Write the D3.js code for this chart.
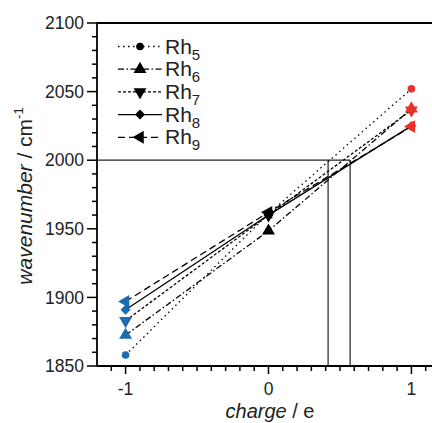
<!DOCTYPE html>
<html><head><meta charset="utf-8">
<script src="https://cdn.jsdelivr.net/npm/d3@7/dist/d3.min.js"></script>
<style>body{margin:0;background:#fff}svg{display:block;font-family:"Liberation Sans",Arial,sans-serif}</style>
</head><body><svg id="c" width="432" height="423"></svg>
<script>
const charges = [-1, 0, 1];
const seriesNames = ["Rh5", "Rh6", "Rh7", "Rh8", "Rh9"];
const rh5 = [1858, 1961, 2052];
const rh6 = [1872.5, 1948.5, 2037.5];
const rh7 = [1883, 1960, 2036.5];
const rh8 = [1891, 1960, 2025];
const rh9 = [1897, 1962, 2024.5];
const crossings = [0.417, 0.571];
const refLevel = 2000;
const yTicks = [1850, 1900, 1950, 2000, 2050, 2100];
const xTicks = [-1, 0, 1];

const svg = d3.select("#c");
const x = d3.scaleLinear().domain([-1.2, 1.2]).range([97, 440]);
const y = d3.scaleLinear().domain([1850, 2100]).range([366, 23]);
const pointColor = v => v < 0 ? "#1b6cb0" : (v > 0 ? "#e8302a" : "#000");

const series = [
  {name: seriesNames[0], sub: "5", vals: rh5, sym: d3.symbolCircle, size: 46, dash: "1.5,3.5", rot: 0},
  {name: seriesNames[1], sub: "6", vals: rh6, sym: d3.symbolTriangle, size: 72, dash: "6,2.5,1.5,2.5", rot: 0},
  {name: seriesNames[2], sub: "7", vals: rh7, sym: d3.symbolTriangle, size: 72, dash: "3,2", rot: 180},
  {name: seriesNames[3], sub: "8", vals: rh8, sym: d3.symbolSquare, size: 50, dash: null, rot: 45},
  {name: seriesNames[4], sub: "9", vals: rh9, sym: d3.symbolTriangle, size: 72, dash: "7,4", rot: -90}
];

const g = svg.append("g");
g.append("line").attr("x1", x(-1.2)).attr("x2", x(crossings[1])).attr("y1", y(refLevel)).attr("y2", y(refLevel))
  .attr("stroke", "#222").attr("stroke-width", 1.3);
crossings.forEach(c => {
  g.append("line").attr("x1", x(c)).attr("x2", x(c)).attr("y1", y(refLevel)).attr("y2", y(1850))
    .attr("stroke", "#222").attr("stroke-width", 1.2);
});

const line = d3.line().x((d, i) => x(charges[i])).y(d => y(d));
series.forEach(s => {
  g.append("path").attr("d", line(s.vals)).attr("fill", "none").attr("stroke", "#000")
    .attr("stroke-width", 1.3).attr("stroke-dasharray", s.dash);
});
series.forEach(s => {
  s.vals.forEach((v, i) => {
    g.append("path").attr("d", d3.symbol().type(s.sym).size(s.size)())
      .attr("transform", `translate(${x(charges[i])},${y(v)}) rotate(${s.rot})`)
      .attr("fill", pointColor(charges[i]));
  });
});

const ya = svg.append("g").attr("transform", `translate(${x(-1.2)},0)`);
ya.append("line").attr("x1", 0).attr("x2", 0).attr("y1", y(2100)).attr("y2", y(1850)).attr("stroke", "#000").attr("stroke-width", 1.8);
d3.range(1850, 2101, 10).forEach(v => {
  const major = v % 50 === 0;
  ya.append("line").attr("x1", major ? -10 : -5).attr("x2", 0).attr("y1", y(v)).attr("y2", y(v))
    .attr("stroke", "#000").attr("stroke-width", 1.5);
});
yTicks.forEach(v => {
  ya.append("text").attr("x", -13).attr("y", y(v)).attr("dy", "0.35em").attr("text-anchor", "end")
    .attr("font-size", 17.5).attr("fill", "#222").text(v);
});

const xa = svg.append("g");
xa.append("line").attr("x1", x(-1.2)).attr("x2", x(1.2)).attr("y1", y(1850)).attr("y2", y(1850)).attr("stroke", "#000").attr("stroke-width", 1.8);
xa.append("line").attr("x1", x(-1.2)).attr("x2", x(1.2)).attr("y1", y(2100)).attr("y2", y(2100)).attr("stroke", "#000").attr("stroke-width", 2.2);
d3.range(-11, 13, 1).forEach(k => {
  const v = k / 10;
  const major = k % 10 === 0;
  xa.append("line").attr("x1", x(v)).attr("x2", x(v)).attr("y1", y(1850)).attr("y2", y(1850) + (major ? 8 : 5))
    .attr("stroke", "#000").attr("stroke-width", 1.5);
});
xTicks.forEach(v => {
  xa.append("text").attr("x", x(v)).attr("y", 395).attr("text-anchor", "middle")
    .attr("font-size", 17.5).attr("fill", "#222").text(v < 0 ? "-" + Math.abs(v) : v);
});

const xt = svg.append("text").attr("x", 270).attr("y", 417.5).attr("text-anchor", "middle").attr("font-size", 20).attr("fill", "#222");
xt.append("tspan").attr("font-style", "italic").text("charge");
xt.append("tspan").text(" / e");
const yt = svg.append("text").attr("transform", "translate(32,196) rotate(-90)").attr("text-anchor", "middle").attr("font-size", 21).attr("fill", "#222");
yt.append("tspan").attr("font-style", "italic").text("wavenumber");
yt.append("tspan").text("  / cm");
yt.append("tspan").attr("font-size", 13).attr("dy", -9).text("-1");

const leg = svg.append("g");
series.forEach((s, i) => {
  const yy = 46.5 + i * 22.7;
  leg.append("line").attr("x1", 118).attr("x2", 162).attr("y1", yy).attr("y2", yy)
    .attr("stroke", "#000").attr("stroke-width", 1.3).attr("stroke-dasharray", s.dash);
  leg.append("path").attr("d", d3.symbol().type(s.sym).size(s.size)())
    .attr("transform", `translate(140,${yy}) rotate(${s.rot})`).attr("fill", "#000");
  const t = leg.append("text").attr("x", 165).attr("y", yy + 7).attr("font-size", 21).attr("fill", "#222");
  t.append("tspan").text("Rh");
  t.append("tspan").attr("font-size", 15).attr("dy", 6).text(s.sub);
});
</script></body></html>
